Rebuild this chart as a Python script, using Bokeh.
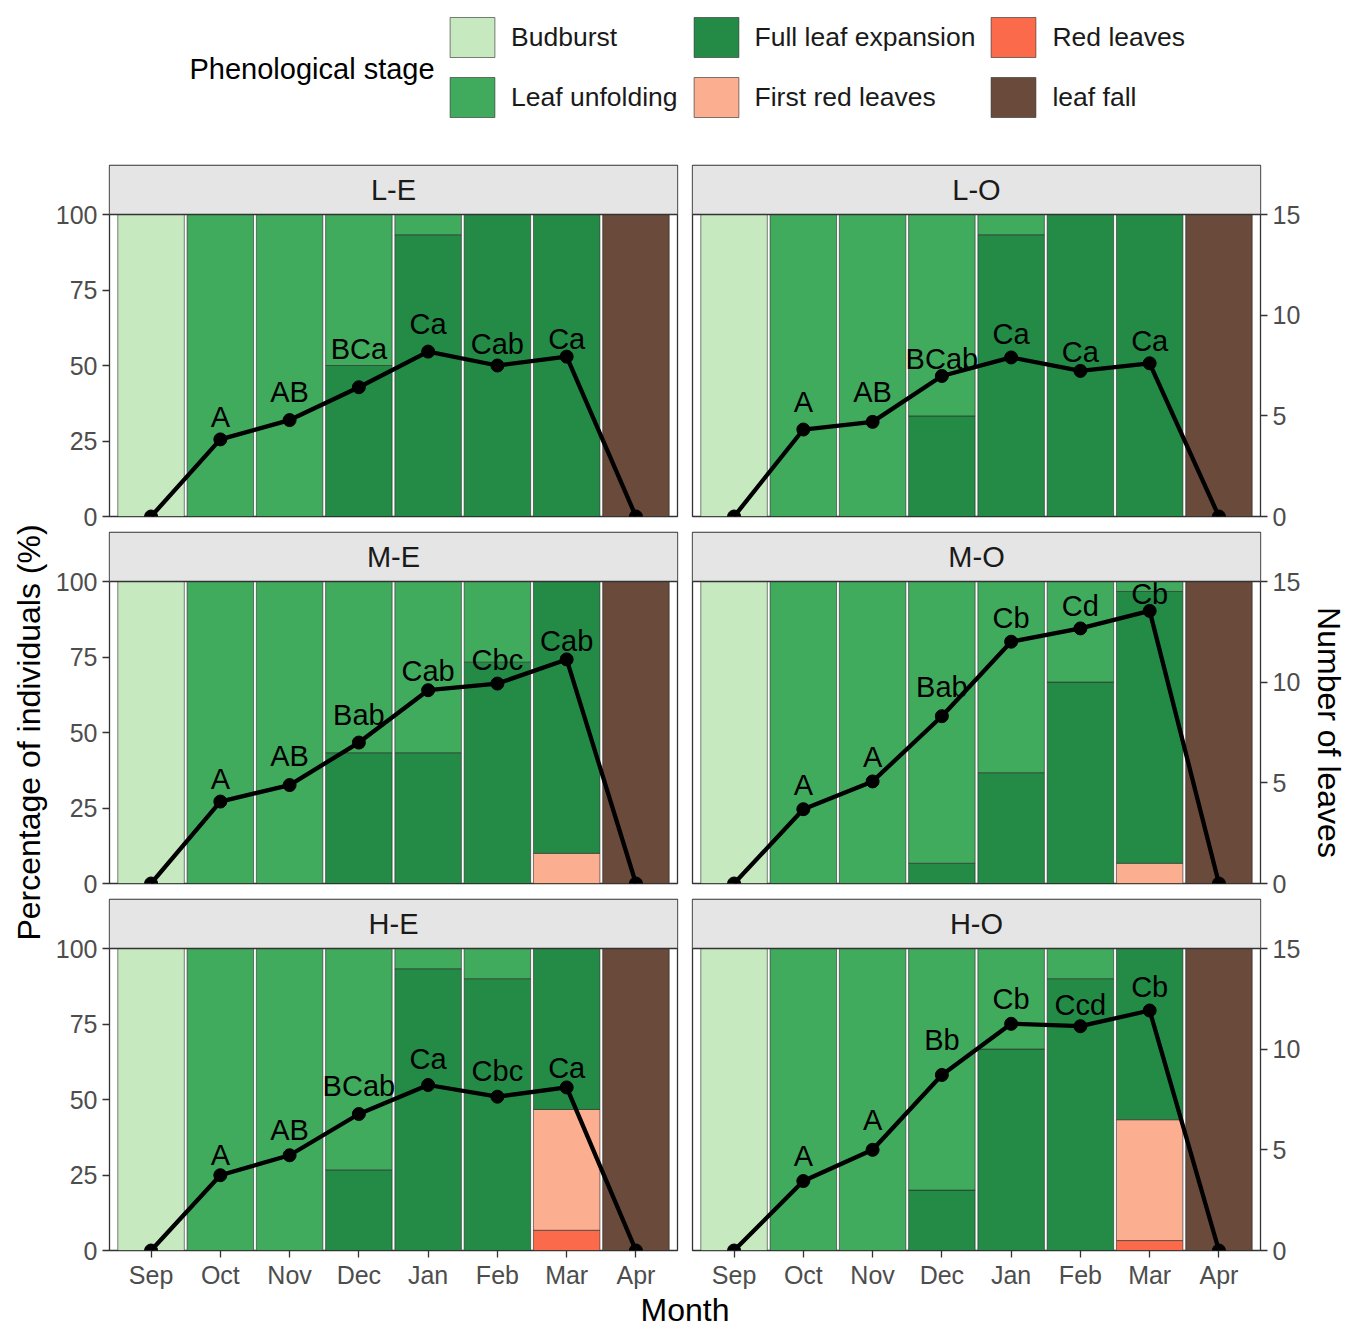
import numpy as np
from bokeh.plotting import figure
from bokeh.models import (Range1d, LinearAxis, FixedTicker, ColumnDataSource,
                          BoxAnnotation, Span, Label, Legend, LegendItem)
from bokeh.layouts import row, column
from bokeh.embed import file_html
from bokeh.resources import INLINE
from bokeh.core.properties import value

# ---------------- data ----------------
MONTHS = ["Sep", "Oct", "Nov", "Dec", "Jan", "Feb", "Mar", "Apr"]
STAGES = ["Budburst", "Leaf unfolding", "Full leaf expansion",
          "First red leaves", "Red leaves", "leaf fall"]
STAGE_COLORS = ["#C7E9C0", "#41AB5D", "#238B45", "#FCAE91", "#FB6A4A", "#6A4A3A"]
PANELS = ["L-E", "L-O", "M-E", "M-O", "H-E", "H-O"]

# percentage of individuals in each stage (Sep..Apr)
BUDBURST = [100, 0, 0, 0, 0, 0, 0, 0]
LEAF_FALL = [0, 0, 0, 0, 0, 0, 0, 100]
NONE = [0, 0, 0, 0, 0, 0, 0, 0]

LE_UNFOLDING = [0, 100, 100, 50, 6.7, 0, 0, 0]
LE_FULL = [0, 0, 0, 50, 93.3, 100, 100, 0]
LE_FIRST_RED = NONE
LE_RED = NONE

LO_UNFOLDING = [0, 100, 100, 66.7, 6.7, 0, 0, 0]
LO_FULL = [0, 0, 0, 33.3, 93.3, 100, 100, 0]
LO_FIRST_RED = NONE
LO_RED = NONE

ME_UNFOLDING = [0, 100, 100, 56.7, 56.7, 26.7, 0, 0]
ME_FULL = [0, 0, 0, 43.3, 43.3, 73.3, 90, 0]
ME_FIRST_RED = [0, 0, 0, 0, 0, 0, 10, 0]
ME_RED = NONE

MO_UNFOLDING = [0, 100, 100, 93.3, 63.3, 33.3, 3.3, 0]
MO_FULL = [0, 0, 0, 6.7, 36.7, 66.7, 90, 0]
MO_FIRST_RED = [0, 0, 0, 0, 0, 0, 6.7, 0]
MO_RED = NONE

HE_UNFOLDING = [0, 100, 100, 73.3, 6.7, 10, 0, 0]
HE_FULL = [0, 0, 0, 26.7, 93.3, 90, 53.3, 0]
HE_FIRST_RED = [0, 0, 0, 0, 0, 0, 40, 0]
HE_RED = [0, 0, 0, 0, 0, 0, 6.7, 0]

HO_UNFOLDING = [0, 100, 100, 80, 33.3, 10, 0, 0]
HO_FULL = [0, 0, 0, 20, 66.7, 90, 56.7, 0]
HO_FIRST_RED = [0, 0, 0, 0, 0, 0, 40, 0]
HO_RED = [0, 0, 0, 0, 0, 0, 3.3, 0]

# number of leaves (Sep..Apr)
LE_LEAVES = [0, 3.83, 4.79, 6.42, 8.19, 7.50, 7.94, 0]
LO_LEAVES = [0, 4.32, 4.70, 6.98, 7.90, 7.23, 7.61, 0]
ME_LEAVES = [0, 4.07, 4.89, 7.00, 9.60, 9.93, 11.13, 0]
MO_LEAVES = [0, 3.69, 5.07, 8.31, 12.01, 12.67, 13.54, 0]
HE_LEAVES = [0, 3.74, 4.73, 6.78, 8.22, 7.64, 8.10, 0]
HO_LEAVES = [0, 3.45, 5.00, 8.72, 11.26, 11.14, 11.92, 0]

# significance letters (Oct..Mar) and their heights (number-of-leaves units)
LE_LETTERS = ["A", "AB", "BCa", "Ca", "Cab", "Ca"]
LE_LETTER_Y = [4.95, 6.17, 8.31, 9.56, 8.56, 8.81]
LO_LETTERS = ["A", "AB", "BCab", "Ca", "Ca", "Ca"]
LO_LETTER_Y = [5.70, 6.17, 7.82, 9.08, 8.17, 8.72]
ME_LETTERS = ["A", "AB", "Bab", "Cab", "Cbc", "Cab"]
ME_LETTER_Y = [5.17, 6.32, 8.36, 10.56, 11.09, 12.03]
MO_LETTERS = ["A", "A", "Bab", "Cb", "Cd", "Cb"]
MO_LETTER_Y = [4.90, 6.30, 9.78, 13.21, 13.80, 14.37]
HE_LETTERS = ["A", "AB", "BCab", "Ca", "Cbc", "Ca"]
HE_LETTER_Y = [4.74, 6.00, 8.15, 9.51, 8.92, 9.08]
HO_LETTERS = ["A", "A", "Bb", "Cb", "Ccd", "Cb"]
HO_LETTER_Y = [4.67, 6.48, 10.46, 12.48, 12.20, 13.10]

PANEL_DATA = {
    "L-E": (LE_UNFOLDING, LE_FULL, LE_FIRST_RED, LE_RED, LE_LEAVES, LE_LETTERS, LE_LETTER_Y),
    "L-O": (LO_UNFOLDING, LO_FULL, LO_FIRST_RED, LO_RED, LO_LEAVES, LO_LETTERS, LO_LETTER_Y),
    "M-E": (ME_UNFOLDING, ME_FULL, ME_FIRST_RED, ME_RED, ME_LEAVES, ME_LETTERS, ME_LETTER_Y),
    "M-O": (MO_UNFOLDING, MO_FULL, MO_FIRST_RED, MO_RED, MO_LEAVES, MO_LETTERS, MO_LETTER_Y),
    "H-E": (HE_UNFOLDING, HE_FULL, HE_FIRST_RED, HE_RED, HE_LEAVES, HE_LETTERS, HE_LETTER_Y),
    "H-O": (HO_UNFOLDING, HO_FULL, HO_FIRST_RED, HO_RED, HO_LEAVES, HO_LETTERS, HO_LETTER_Y),
}

# ---------------- style / layout ----------------
FONT = "Liberation Sans"
DARK = "#333333"
LEG_H = 163
FRAME_W = 568
FRAME_H = 351
DATA_H = 302
TOP = 100 * FRAME_H / DATA_H
ROW_TOP, ROW_BOT, LAST_BOT = 2, 14, 40
LEFT_L, LEFT_R, RIGHT_L, RIGHT_R = 61, 7, 8, 50
YT_W = 48
YTR_W = 36
LEFT_FIG_W = LEFT_L + FRAME_W + LEFT_R
RIGHT_FIG_W = RIGHT_L + FRAME_W + RIGHT_R
TOTAL_W = YT_W + LEFT_FIG_W + RIGHT_FIG_W + YTR_W
GRID_H = 2 * (ROW_TOP + FRAME_H + ROW_BOT) + (ROW_TOP + FRAME_H + LAST_BOT)
XT_H = 39


def style_axis(ax, standoff=5):
    ax.axis_line_color = None
    ax.major_tick_line_color = DARK
    ax.major_tick_line_width = 1.3
    ax.major_tick_in = 0
    ax.major_tick_out = 7
    ax.minor_tick_line_color = None
    ax.major_label_text_font = FONT
    ax.major_label_text_font_size = "25px"
    ax.major_label_text_color = "#4D4D4D"
    ax.major_label_standoff = standoff


def make_panel(name, col, rowi):
    unfold, full, first_red, red, leaves, letters, letter_y = PANEL_DATA[name]
    last = rowi == 2
    p = figure(x_range=Range1d(-0.6, len(MONTHS) - 0.4), y_range=Range1d(0, TOP),
               frame_width=FRAME_W, frame_height=FRAME_H,
               min_border_left=LEFT_L if col == 0 else RIGHT_L,
               min_border_right=LEFT_R if col == 0 else RIGHT_R,
               min_border_top=ROW_TOP,
               min_border_bottom=LAST_BOT if last else ROW_BOT,
               x_axis_location=None, y_axis_location=None,
               output_backend="svg", toolbar_location=None)
    p.grid.visible = False
    p.outline_line_color = DARK
    p.outline_line_width = 1.3
    p.background_fill_color = "white"
    p.extra_y_ranges = {"leaves": Range1d(0, 15 * TOP / 100)}

    x = list(range(len(MONTHS)))
    src = ColumnDataSource(dict(x=x, fall=LEAF_FALL, red=red, fred=first_red,
                                full=full, unfold=unfold, bud=BUDBURST))
    keys = ["fall", "red", "fred", "full", "unfold", "bud"]
    cols = [STAGE_COLORS[5], STAGE_COLORS[4], STAGE_COLORS[3],
            STAGE_COLORS[2], STAGE_COLORS[1], STAGE_COLORS[0]]
    p.vbar_stack(keys, x="x", width=0.96, fill_color=cols, line_color="#2A2A2A",
                 line_width=0.6, source=src)

    p.line(x, leaves, y_range_name="leaves", line_width=4.3, line_color="black",
           line_join="round")
    p.scatter(x, leaves, y_range_name="leaves", size=13, fill_color="black",
              line_color="black")
    p.text(x=x[1:7], y=letter_y, text=letters, y_range_name="leaves",
           text_align="center", text_baseline="middle",
           text_font=value(FONT), text_font_size="29px", text_color="black")

    # strip
    p.add_layout(BoxAnnotation(bottom=100, fill_color="#E5E5E5", fill_alpha=1.0,
                               line_color=None))
    p.add_layout(Span(location=100, dimension="width", line_color=DARK, line_width=1.3))
    p.add_layout(Label(x=(len(MONTHS) - 1) / 2, y=(100 + TOP) / 2, text=name,
                       text_align="center", text_baseline="middle",
                       text_font=FONT, text_font_size="29px", text_color="#1A1A1A"))

    if col == 0:
        ax = LinearAxis(ticker=FixedTicker(ticks=[0, 25, 50, 75, 100]))
        style_axis(ax)
        p.add_layout(ax, "left")
    else:
        ax = LinearAxis(y_range_name="leaves", ticker=FixedTicker(ticks=[0, 5, 10, 15]))
        style_axis(ax)
        p.add_layout(ax, "right")
    if last:
        ax = LinearAxis(ticker=FixedTicker(ticks=x),
                        major_label_overrides={i: m for i, m in enumerate(MONTHS)})
        style_axis(ax, standoff=3)
        p.add_layout(ax, "below")
    return p


def blank(w, h):
    f = figure(width=w, height=h, x_range=Range1d(0, w), y_range=Range1d(0, h),
               min_border=0, x_axis_location=None, y_axis_location=None,
               output_backend="svg", toolbar_location=None)
    f.grid.visible = False
    f.outline_line_color = None
    return f


# legend figure (proxy glyphs carry no visible data)
leg = blank(TOTAL_W, LEG_H)
items = []
for s, c in zip(STAGES, STAGE_COLORS):
    r = leg.vbar(x=[float("nan")], top=[float("nan")], width=1, fill_color=c,
                 line_color="#2A2A2A", line_width=0.6)
    items.append(LegendItem(label=s, renderers=[r]))
legend = Legend(items=items, location=(444, LEG_H - 122), orientation="vertical",
                nrows=2, glyph_width=56, glyph_height=50, label_standoff=11,
                spacing=10, padding=0, margin=0, border_line_color=None,
                background_fill_alpha=0, label_text_font=FONT,
                label_text_font_size="26.5px", label_text_color="#1A1A1A")
leg.add_layout(legend)
leg.text(x=[189], y=[LEG_H - 68], text=["Phenological stage"], text_align="left",
         text_baseline="middle", text_font=value(FONT), text_font_size="29px",
         text_color="black")

panels = [make_panel(n, i % 2, i // 2) for i, n in enumerate(PANELS)]
grid = column(row(panels[0], panels[1]), row(panels[2], panels[3]), row(panels[4], panels[5]))

# axis titles
data_top = ROW_TOP + (FRAME_H - DATA_H)
data_bot = GRID_H - LAST_BOT
yc = GRID_H - (data_top + data_bot) / 2
yt = blank(YT_W, GRID_H)
yt.text(x=[28], y=[yc], text=["Percentage of individuals (%)"], angle=np.pi / 2,
        text_align="center", text_baseline="middle", text_font=value(FONT),
        text_font_size="32px", text_color="black")
ytr = blank(YTR_W, GRID_H)
ytr.text(x=[YTR_W / 2], y=[yc], text=["Number of leaves"], angle=-np.pi / 2,
         text_align="center", text_baseline="middle", text_font=value(FONT),
         text_font_size="32px", text_color="black")
xt = blank(TOTAL_W, XT_H)
x_center = YT_W + LEFT_L + (FRAME_W * 2 + LEFT_R + RIGHT_L) / 2
xt.text(x=[x_center], y=[XT_H / 2 + 1], text=["Month"], text_align="center",
        text_baseline="middle", text_font=value(FONT), text_font_size="32px",
        text_color="black")

layout = column(leg, row(yt, grid, ytr), xt)
open("out.html", "w").write(file_html(layout, INLINE))
